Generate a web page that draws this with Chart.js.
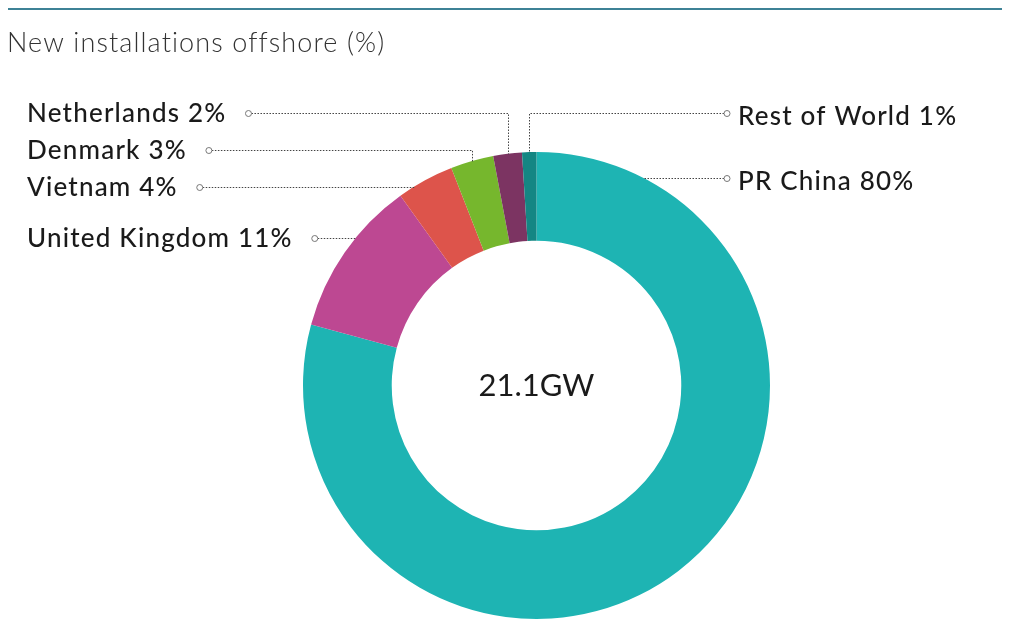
<!DOCTYPE html>
<html>
<head>
<meta charset="utf-8">
<script src="https://cdn.jsdelivr.net/npm/chart.js@4.4.0/dist/chart.umd.min.js"></script>
<style>
  html, body { margin: 0; padding: 0; background: #fff; }
  #wrap { position: relative; width: 1010px; height: 626px; }
</style>
</head>
<body>
<div id="wrap"><canvas id="chart" width="1010" height="626"></canvas></div>
<script>
// datos (orden horario desde arriba)
const paises = ["PR China", "United Kingdom", "Vietnam", "Denmark", "Netherlands", "Rest of World"];
const porcentajes = [80, 11, 4, 3, 2, 1];
const colores = ["#1eb4b3", "#bd4892", "#dd544b", "#76b72d", "#7c3462", "#148683"];
const titulo = "New installations offshore (%)";
const totalTexto = "21.1GW";

// donde va cada etiqueta (lado, altura de la linea, tipo de conector)
const etiquetas = {
  "PR China":       { lado: "right", y: 178, modo: "horizontal" },
  "United Kingdom": { lado: "left",  y: 238, modo: "horizontal" },
  "Vietnam":        { lado: "left",  y: 187, modo: "horizontal" },
  "Denmark":        { lado: "left",  y: 150, modo: "vertical" },
  "Netherlands":    { lado: "left",  y: 113, modo: "vertical" },
  "Rest of World":  { lado: "right", y: 113, modo: "vertical" }
};

const fuenteEtiqueta = '500 26px Lato, "Noto Sans", sans-serif';

const pluginEtiquetas = {
  id: "etiquetas",
  afterDraw(chart) {
    const ctx = chart.ctx;
    const meta = chart.getDatasetMeta(0);

    // linea superior y titulo
    ctx.save();
    ctx.strokeStyle = "#3d8296";
    ctx.lineWidth = 2;
    ctx.beginPath();
    ctx.moveTo(8, 9);
    ctx.lineTo(1002, 9);
    ctx.stroke();
    ctx.fillStyle = "#333";
    ctx.font = '300 27px Lato, "Noto Sans", sans-serif';
    ctx.letterSpacing = "1.1px";
    ctx.textBaseline = "middle";
    ctx.textAlign = "left";
    ctx.fillText(titulo, 7, 43);
    ctx.restore();

    meta.data.forEach((arco, i) => {
      const nombre = paises[i];
      const cfg = etiquetas[nombre];
      const cx = arco.x, cy = arco.y, r = arco.outerRadius;
      const texto = `${nombre} ${porcentajes[i]}%`;
      ctx.save();
      ctx.font = fuenteEtiqueta;
      ctx.letterSpacing = "1.2px";
      const ancho = ctx.measureText(texto).width;

      let circX, textoX, textoY;
      if (cfg.lado === "left") {
        textoX = 27;
        circX = textoX + ancho + 22;
        textoY = cfg.y + 1;
      } else {
        circX = 727;
        textoX = 738;
        textoY = cfg.y + 4;
      }

      // punto de llegada sobre el arco
      const puntos = [];
      if (cfg.modo === "vertical") {
        const medio = (arco.startAngle + arco.endAngle) / 2;
        const ax = cx + r * Math.cos(medio);
        const ay = cy + r * Math.sin(medio);
        puntos.push([circX, cfg.y], [ax, cfg.y], [ax, ay]);
      } else {
        const dy = cfg.y - cy;
        const dx = Math.sqrt(Math.max(r * r - dy * dy, 0));
        const ax = cfg.lado === "left" ? cx - dx : cx + dx;
        puntos.push([circX, cfg.y], [ax, cfg.y]);
      }

      ctx.strokeStyle = "#444";
      ctx.lineWidth = 1;
      ctx.setLineDash([1.5, 1.5]);
      ctx.beginPath();
      ctx.moveTo(puntos[0][0], puntos[0][1] + 0.5);
      for (let k = 1; k < puntos.length; k++) {
        ctx.lineTo(Math.round(puntos[k][0]) + 0.5, puntos[k][1] + 0.5);
      }
      ctx.stroke();
      ctx.setLineDash([]);

      // circulito
      ctx.fillStyle = "#fff";
      ctx.strokeStyle = "#777";
      ctx.beginPath();
      ctx.arc(circX, cfg.y + 0.5, 3, 0, Math.PI * 2);
      ctx.fill();
      ctx.stroke();

      ctx.fillStyle = "#1a1a1a";
      ctx.textBaseline = "middle";
      ctx.textAlign = "left";
      ctx.fillText(texto, textoX, textoY);
      ctx.restore();
    });

    // texto central
    const arco0 = meta.data[0];
    ctx.save();
    ctx.font = '400 31px Lato, "Noto Sans", sans-serif';
    ctx.fillStyle = "#1a1a1a";
    ctx.textAlign = "center";
    ctx.textBaseline = "middle";
    ctx.fillText(totalTexto, arco0.x, arco0.y);
    ctx.restore();
  }
};

new Chart(document.getElementById("chart").getContext("2d"), {
  type: "doughnut",
  data: {
    labels: paises,
    datasets: [{
      data: porcentajes,
      backgroundColor: colores,
      borderWidth: 0,
      hoverOffset: 0
    }]
  },
  options: {
    responsive: false,
    animation: false,
    cutout: "62%",
    layout: { padding: { left: 303, right: 240, top: 152, bottom: 7 } },
    plugins: {
      legend: { display: false },
      tooltip: { enabled: false }
    }
  },
  plugins: [pluginEtiquetas]
});
</script>
</body>
</html>
